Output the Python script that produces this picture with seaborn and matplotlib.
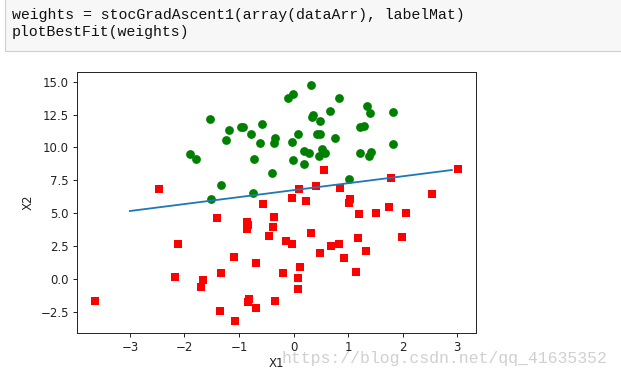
import numpy as np
import pandas as pd
import matplotlib
matplotlib.use("Agg")
import matplotlib.pyplot as plt
from matplotlib.patches import Rectangle
import seaborn as sns

# class 0 (green circles)
x0 = [-0.017612, -0.752157, -1.322371, 0.423363, 0.667394, 0.569411, -0.026632, 1.347183,
      -1.781871, -0.576525, 1.217916, -0.733928, 1.416614, 1.224863, 0.275221, 0.470575,
      -1.889567, -1.527893, -1.185247, -0.618787, -1.237728, -0.959885, 0.492911, 0.184992,
      -0.355715, -0.397822, 0.824839, -0.344008, -0.918801, -0.007194, 0.356107, 0.342578,
      1.296683, 0.475487, -0.783277, 0.074798, -0.102781, 0.518389, 1.015399, -1.510047,
      1.821096, 1.400102, 1.825662, 0.197445, 0.761349, 1.388610, 0.317029]
y0 = [14.053064, 6.538620, 7.152853, 11.054677, 12.741452, 9.548755, 10.427743, 13.175500,
      9.097953, 11.778922, 9.597015, 9.098687, 9.619232, 11.587360, 9.543647, 9.332488,
      9.542662, 12.150579, 11.309318, 10.320986, 10.549033, 11.555336, 10.993324, 8.721488,
      10.325976, 8.058397, 13.730343, 10.717485, 11.560217, 9.075792, 12.447863, 12.281162,
      11.607559, 12.040035, 11.009725, 11.023650, 13.763651, 9.887035, 7.571882, 6.061992,
      10.283990, 12.628781, 12.693808, 9.744638, 10.693862, 9.341997, 14.739025]

# class 1 (red squares)
x1 = [-1.395634, 0.406704, -2.460150, 0.850433, 1.176813, -0.566606, 0.931635, -0.024205,
      -0.036453, -0.196949, 1.014459, 1.985298, -1.693453, -0.346811, -2.124484, -3.642001,
      0.315985, -0.386323, 0.556921, -1.347803, 1.196604, -0.445678, 1.042222, 1.152083,
      0.828534, -0.683565, 0.229456, 1.507278, 0.099671, 1.785928, -0.364009, -0.841722,
      0.490426, -0.810823, 2.530777, -1.337472, -0.147324, -1.658086, 1.319944, 2.056216,
      -0.851633, -1.076637, 3.010150, -1.099458, -0.834872, -0.846637, 1.752842, 0.078557,
      0.089392, 0.126117, -0.679797, 0.677983, -2.168791]
y1 = [4.662541, 7.067335, 6.866805, 6.920334, 3.167020, 5.749003, 1.589505, 6.151823,
      2.690988, 0.444165, 5.754399, 3.230619, -0.557540, -1.678730, 2.672471, -1.618087,
      3.523953, 3.989286, 8.294984, -2.406051, 4.951851, 3.297303, 6.105155, 0.548467,
      2.676045, -2.166125, 5.921938, 5.027866, 6.835839, 7.718645, 4.747300, 4.119083,
      1.960539, -1.466018, 6.476801, 0.468339, 2.874846, -0.027255, 2.171228, 5.019981,
      4.375691, -3.181888, 8.401766, 1.688274, -1.733869, 3.849075, 5.468166, 0.059736,
      -0.715300, 0.922311, 1.220530, 2.556666, 0.143632]

# best fit line end points
line_x = [-3.0, 2.9]
line_y = [5.18, 8.29]

code_lines = ["weights = stocGradAscent1(array(dataArr), labelMat)",
              "plotBestFit(weights)"]
watermark = "https://blog.csdn.net/qq_41635352"

W, H = 621, 379
fig = plt.figure(figsize=(W / 100, H / 100), dpi=100)

# notebook code cell
fig.patches.append(Rectangle((5 / W, 1 - 50.7 / H), 1.0, 0.2, transform=fig.transFigure,
                             facecolor="#f7f7f7", edgecolor="#cfcfcf", linewidth=0.8))
for i, t in enumerate(code_lines):
    fig.text(12 / W, 1 - (15 + 17 * i) / H, t, family="Liberation Mono", fontsize=10.7,
             va="center", ha="left", color="#111111")

ax = fig.add_axes([76.7 / W, 1 - 333.3 / H, (476 - 76.7) / W, (333.3 - 71.7) / H])

df0 = pd.DataFrame({"x": x0, "y": y0})
df1 = pd.DataFrame({"x": x1, "y": y1})
sns.scatterplot(data=df1, x="x", y="y", ax=ax, color="red", marker="s", s=33, linewidth=0)
sns.scatterplot(data=df0, x="x", y="y", ax=ax, color="green", marker="o", s=40, linewidth=0)
sns.lineplot(x=line_x, y=line_y, ax=ax, color="#1f77b4", linewidth=1.3)

ax.set_xlim(-3.975, 3.343)
ax.set_ylim(-4.1, 15.75)
ax.set_xticks([-3, -2, -1, 0, 1, 2, 3])
ax.set_yticks([-2.5, 0.0, 2.5, 5.0, 7.5, 10.0, 12.5, 15.0])
ax.set_yticklabels([f"{v:.1f}".replace("-", "\u2212") for v in ax.get_yticks()])
ax.tick_params(labelsize=8.5, length=3, width=0.7, pad=2.5, colors="#222222")
for sp in ax.spines.values():
    sp.set_linewidth(0.7)
    sp.set_color("#222222")
ax.set_xlabel("X1", fontsize=8.5, color="#222222", labelpad=2)
ax.set_ylabel("X2", fontsize=8.5, color="#222222", labelpad=4)

fig.text(281.7 / W, 1 - 359 / H, watermark, family="Liberation Mono", fontsize=11.9,
         va="center", ha="left", color="#d0d0d0")

fig.savefig("out.png", dpi=100)
